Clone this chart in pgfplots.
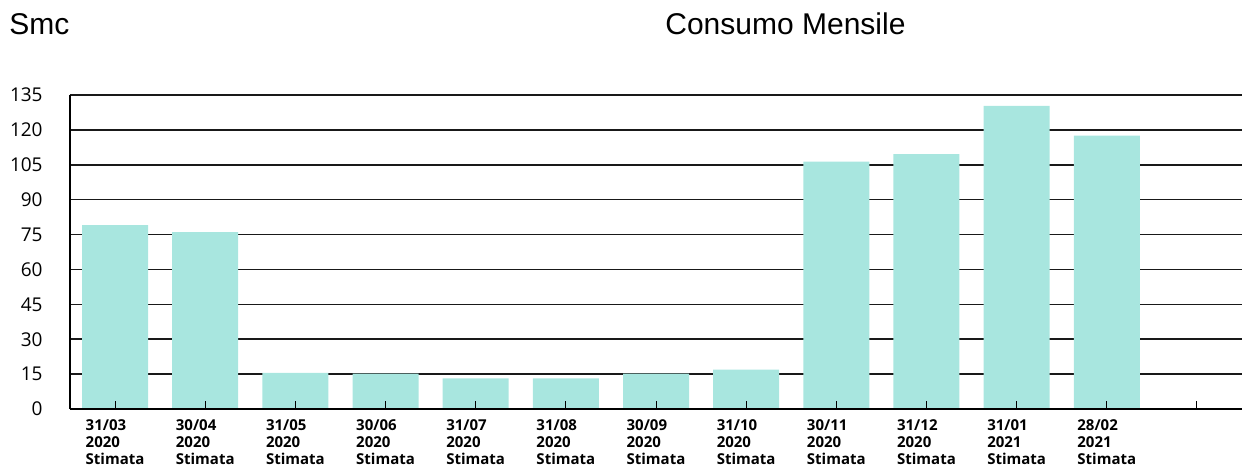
\documentclass[border=0pt]{standalone}
\usepackage{pgfplots}
\pgfplotsset{compat=1.18}
\usepackage{fontspec}
\setmainfont{Liberation Sans}
\newfontfamily\tickfont{Open Sans}
\definecolor{barc}{RGB}{168,230,223}
\pgfplotsset{
 layers/mylayers/.define layer set={axis background,axis grid,pre main,main,axis ticks,axis lines,axis tick labels,axis descriptions,axis foreground}{
  grid style={/pgfplots/on layer=axis grid},
  tick style={/pgfplots/on layer=axis ticks},
  axis line style={/pgfplots/on layer=axis lines},
  label style={/pgfplots/on layer=axis descriptions},
  legend style={/pgfplots/on layer=axis descriptions},
  title style={/pgfplots/on layer=axis descriptions},
  colorbar style={/pgfplots/on layer=axis descriptions},
  ticklabel style={/pgfplots/on layer=axis tick labels},
  axis background@ style={/pgfplots/on layer=axis background},
  3d box foreground style={/pgfplots/on layer=axis foreground},
 },
}
\begin{document}
\begin{tikzpicture}
\begin{axis}[
  set layers=mylayers,
  at={(0pt,0pt)}, anchor=south west,
  scale only axis, width=586pt, height=157pt,
  xmin=-0.5, xmax=12.5, ymin=0, ymax=135,
  axis x line*=bottom, axis y line*=left,
  axis line style={black, line width=0.75pt, -},
  xtick={0,...,12},
  xticklabels={{31/03\\2020\\Stimata},{30/04\\2020\\Stimata},{31/05\\2020\\Stimata},{30/06\\2020\\Stimata},{31/07\\2020\\Stimata},{31/08\\2020\\Stimata},{30/09\\2020\\Stimata},{31/10\\2020\\Stimata},{30/11\\2020\\Stimata},{31/12\\2020\\Stimata},{31/01\\2021\\Stimata},{28/02\\2021\\Stimata},{}},
  xticklabel style={align=left, anchor=north, inner sep=0pt, yshift=-5pt,
    font=\tickfont\bfseries\fontsize{7.5}{8.5}\selectfont},
  ytick={0,15,...,135},
  yticklabel style={anchor=east, inner sep=0pt, xshift=-13.5pt,
    font=\tickfont\fontsize{9.5}{11}\selectfont},
  /pgf/number format/assume math mode=true,
  tick align=inside,
  major tick length=4pt,
  xtick style={black, line width=0.5pt},
  ytick style={draw=none},
  ymajorgrids,
  major grid style={black!90, line width=0.8pt},
  clip=false,
]
\addplot[ybar, bar width=33pt, fill=barc, draw=none] coordinates {
 (0,79) (1,76) (2,15.5) (3,15.2) (4,13.2) (5,13.2)
 (6,15.2) (7,16.9) (8,106.3) (9,109.6) (10,130.3) (11,117.5)
};
\end{axis}
\node[anchor=base west, inner sep=0pt, font=\fontsize{15}{18}\selectfont] at (-30.5pt,187pt) {Smc};
\node[anchor=base west, inner sep=0pt, font=\fontsize{15}{18}\selectfont] at (297.5pt,187pt) {Consumo Mensile};
\path[use as bounding box] (-35pt,-30.5pt) rectangle (586.5pt,204.5pt);
\end{tikzpicture}
\end{document}
